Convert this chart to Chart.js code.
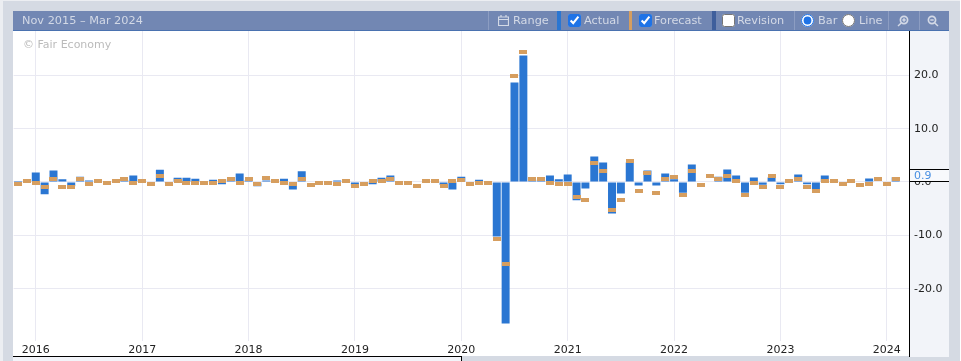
<!DOCTYPE html>
<html>
<head>
    <title>Nov 2015 - Mar 2024</title>
    <script src="https://cdn.jsdelivr.net/npm/chart.js@4/dist/chart.umd.js"></script>
    <style>
        html, body { margin: 0; padding: 0; }
        body { width: 961px; height: 361px; background: #d5dae3; overflow: hidden; position: relative;
               font: 11.3px "DejaVu Sans", sans-serif; }
        .abs { position: absolute; }
        #edgeL { left: 0; top: 0; width: 3px; height: 361px; background: #eceef2; }
        #edgeT { left: 0; top: 0; width: 961px; height: 1px; background: #eceef2; }
        #edgeR { left: 960px; top: 0; width: 1px; height: 361px; background: #fff; }
        #header { left: 13px; top: 11px; width: 936px; height: 19px; background: #7287b3;
                  border-bottom: 1px solid #4a72b0; color: #d3d9e6; line-height: 20px; }
        .label { top: 0; white-space: nowrap; }
        .sep { top: 0; width: 1px; height: 19px; background: #8c9dc2; }
        .block { top: 0; height: 19px; }
        input { position: absolute; margin: 0; width: 13px; height: 13px; top: 3px; accent-color: #1f73e6; }
        #panel { left: 910px; top: 31px; width: 39px; height: 326px; background: #f2f4f9; }
        #plotBg { left: 13px; top: 31px; width: 897px; height: 325px; background: #fff; }
        #foot { left: 13px; top: 357px; width: 448px; height: 4px; background: #f2f4f9; }
        #chartWrap { left: 13px; top: 31px; width: 936px; height: 325px; }
        #lineR { left: 909px; top: 31px; width: 1px; height: 326px; background: #000; }
        #lineB { left: 13px; top: 356px; width: 448px; height: 1px; background: #000; }
        #lineBv { left: 461px; top: 356px; width: 1px; height: 5px; background: #000; }
        #copy { left: 23px; top: 38px; color: #bbb; font-size: 11px; }
    </style>
</head>
<body>
    <div class="abs" id="edgeL"></div>
    <div class="abs" id="edgeT"></div>
    <div class="abs" id="edgeR"></div>
    <div class="abs" id="plotBg"></div>
    <div class="abs" id="panel"></div>
    <div class="abs" id="foot"></div>
    <div class="abs" id="chartWrap"><canvas id="myChart" width="936" height="325"></canvas></div>
    <div class="abs" id="lineR"></div>
    <div class="abs" id="lineB"></div>
    <div class="abs" id="lineBv"></div>
    <div class="abs" id="copy">© Fair Economy</div>

    <div class="abs" id="header">
        <span class="abs label" style="left:9px">Nov 2015 – Mar 2024</span>
        <div class="abs sep" style="left:475px"></div>
        <svg class="abs" style="left:485px;top:4px" width="11" height="11" viewBox="0 0 11 11">
            <path d="M0.5 2h10v8.5h-10z M0.5 4.5h10 M3 0v2.5 M8 0v2.5" fill="none" stroke="#d3d9e6" stroke-width="1.2"/>
        </svg>
        <span class="abs label" style="left:500px">Range</span>
        <div class="abs block" style="left:544px;width:4px;background:#2a76d2"></div>
        <input type="checkbox" checked style="left:555px">
        <span class="abs label" style="left:571px">Actual</span>
        <div class="abs block" style="left:616px;width:3px;background:#d69e5f"></div>
        <input type="checkbox" checked style="left:626px">
        <span class="abs label" style="left:641px">Forecast</span>
        <div class="abs block" style="left:699px;width:4px;background:#3f5f9c"></div>
        <input type="checkbox" style="left:709px">
        <span class="abs label" style="left:724px">Revision</span>
        <div class="abs sep" style="left:781px"></div>
        <input type="radio" name="kind" checked style="left:788px">
        <span class="abs label" style="left:805px">Bar</span>
        <input type="radio" name="kind" style="left:829px">
        <span class="abs label" style="left:846px">Line</span>
        <div class="abs sep" style="left:875px"></div>
        <svg class="abs" style="left:884px;top:4px" width="12" height="12" viewBox="0 0 12 12">
            <circle cx="7" cy="5" r="3.6" fill="none" stroke="#d3d9e6" stroke-width="1.7"/>
            <path d="M4.2 8L1 11 M5.3 5h3.4 M7 3.3v3.4" fill="none" stroke="#d3d9e6" stroke-width="1.5"/>
        </svg>
        <div class="abs sep" style="left:906px"></div>
        <svg class="abs" style="left:914px;top:4px" width="12" height="12" viewBox="0 0 12 12">
            <circle cx="5" cy="5" r="3.6" fill="none" stroke="#d3d9e6" stroke-width="1.7"/>
            <path d="M7.8 8L11 11 M3.3 5h3.4" fill="none" stroke="#d3d9e6" stroke-width="1.5"/>
        </svg>
    </div>

    <script>
        // monthly categories, Nov 2015 to Mar 2024
        var monthNames = ["Jan", "Feb", "Mar", "Apr", "May", "Jun", "Jul", "Aug", "Sep", "Oct", "Nov", "Dec"];
        var months = [];
        for (var m = 10; m <= 10 + 100; m++) {
            months.push(monthNames[m % 12] + " " + (2015 + Math.floor(m / 12)));
        }

        var yTicks = [-20, -10, 0, 10, 20];

        var actual = [
            0.2, 0.2, 1.8, -2.3, 2.15, 0.5, -0.8, 1.0, 0.3, 0.1,
            0.0, 0.1, 0.3, 1.2, 0.1, 0.0, 2.3, -0.2, 0.8, 0.8,
            0.6, 0.0, 0.4, -0.4, 0.5, 1.6, 0.3, -0.8, 0.3, 0.1,
            0.6, -1.4, 2.0, 0.1, 0.0, 0.0, 0.3, 0.0, -0.7, -0.1,
            -0.4, 0.8, 1.2, 0.0, 0.0, 0.1, 0.0, 0.0, -0.5, -1.4,
            1.0, 0.0, 0.4, 0.0, -10.2, -26.5, 18.65, 23.7, 0.4, 0.3,
            1.2, 0.5, 1.4, -3.4, -1.2, 4.8, 3.65, -5.9, -2.15, 3.65,
            -0.65, 2.15, -0.65, 1.6, 0.5, -2.0, 3.3, 0.1, 0.1, 1.0,
            2.35, 1.2, -2.0, 0.85, -0.5, 0.85, -0.4, 0.0, 1.4, -0.4,
            -1.3, 1.2, 0.0, -0.1, 0.0, 0.1, 0.65, 0.1, 0.0, 0.9, null
        ];

        var forecast = [
            -0.3, 0.1, -0.1, -1.0, 0.5, -1.0, -1.0, 0.5, -0.3, 0.1,
            -0.1, 0.1, 0.5, -0.1, 0.1, -0.3, 1.2, -0.3, 0.1, -0.1,
            -0.1, -0.1, -0.1, 0.1, 0.6, -0.1, 0.5, -0.3, 0.8, 0.1,
            -0.1, -0.3, 0.6, -0.5, -0.1, -0.1, -0.3, 0.1, -0.8, -0.3,
            0.1, 0.1, 0.5, -0.1, -0.1, -0.7, 0.1, 0.1, -0.7, 0.1,
            0.3, -0.3, -0.1, -0.1, -10.6, -15.3, 19.8, 24.3, 0.5, 0.65,
            -0.1, -0.3, -0.3, -2.9, -3.3, 3.65, 2.0, -5.3, -3.3, 4.0,
            -1.6, 1.6, -2.0, 0.65, 0.85, -2.35, 2.15, -0.65, 1.2, 0.5,
            1.2, 0.1, -2.35, -0.1, -0.85, 1.2, -0.85, 0.1, 0.5, -0.85,
            -1.6, 0.1, 0.1, -0.3, 0.1, -0.5, -0.3, 0.5, -0.3, 0.5, null
        ];

        var latestValue = "0.9";

        // forecast marker is a small flat rectangle
        var marker = document.createElement('canvas');
        marker.width = 8;
        marker.height = 4;
        var mctx = marker.getContext('2d');
        mctx.fillStyle = '#d69e5f';
        mctx.fillRect(0, 0, 8, 4);

        var latestBox = {
            id: 'latestBox',
            afterDraw: function (chart) {
                var c = chart.ctx;
                var y = Math.round(chart.scales.y.getPixelForValue(parseFloat(latestValue)));
                var left = chart.chartArea.right;
                c.save();
                c.fillStyle = '#f8f9fc';
                c.fillRect(left, y - 7, 40, 11);
                c.fillStyle = '#000';
                c.fillRect(left, y - 8, 40, 1);
                c.fillRect(left, y + 4, 40, 1);
                c.fillStyle = '#4a90e2';
                c.font = '11px "DejaVu Sans"';
                c.textBaseline = 'middle';
                c.fillText(latestValue, left + 5, y - 1);
                c.restore();
            }
        };

        var ctx = document.getElementById('myChart').getContext('2d');
        var myChart = new Chart(ctx, {
            data: {
                labels: months,
                datasets: [
                    {
                        type: 'line',
                        label: 'Forecast',
                        data: forecast,
                        showLine: false,
                        pointStyle: marker,
                        pointRadius: 4,
                        pointHoverRadius: 4,
                        order: 0
                    },
                    {
                        type: 'bar',
                        label: 'Actual',
                        data: actual,
                        backgroundColor: '#2a76d2',
                        borderWidth: 0,
                        categoryPercentage: 1,
                        barPercentage: 0.9,
                        order: 1
                    }
                ]
            },
            options: {
                responsive: false,
                animation: false,
                layout: { padding: { left: 0.6 }, autoPadding: false },
                plugins: { legend: { display: false }, tooltip: { enabled: false } },
                scales: {
                    x: {
                        offset: true,
                        afterBuildTicks: function (scale) {
                            scale.ticks = scale.ticks.filter(function (t) {
                                return months[t.value].indexOf('Jan') === 0;
                            });
                        },
                        afterFit: function (scale) {
                            scale.height = 15;
                            scale.paddingLeft = 0;
                            scale.paddingRight = 0;
                        },
                        grid: { offset: false, color: '#e9e9f2', drawTicks: false },
                        border: { display: false },
                        ticks: {
                            autoSkip: false,
                            maxRotation: 0,
                            padding: 3,
                            color: '#222',
                            font: { family: 'DejaVu Sans', size: 11 },
                            callback: function (value) { return months[value].split(' ')[1]; }
                        }
                    },
                    y: {
                        position: 'right',
                        min: -29.8,
                        max: 28.3,
                        afterBuildTicks: function (scale) {
                            scale.ticks = yTicks.map(function (v) { return { value: v }; });
                        },
                        afterFit: function (scale) {
                            scale.width = 40;
                            scale.paddingTop = 0;
                            scale.paddingBottom = 0;
                        },
                        grid: { color: '#e9e9f2', drawTicks: false },
                        border: { display: false },
                        ticks: {
                            padding: 5,
                            color: '#222',
                            font: { family: 'DejaVu Sans', size: 11 },
                            callback: function (value) { return value.toFixed(1); }
                        }
                    }
                }
            },
            plugins: [latestBox]
        });
    </script>
</body>
</html>
